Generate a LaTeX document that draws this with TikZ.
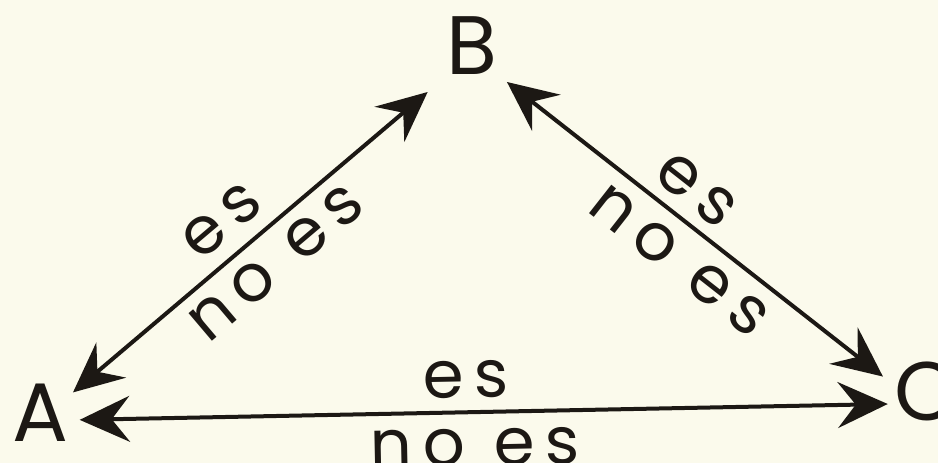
\documentclass[tikz,border=0pt]{standalone}
\usepackage{fontspec}
\setmainfont{Poppins}
\newfontfamily\tagfont[LetterSpace=16]{Poppins}
\usepackage{tikz}
\usetikzlibrary{arrows.meta,positioning}
\definecolor{paper}{RGB}{251,250,236}
\definecolor{ink}{RGB}{28,24,20}

\begin{document}
\begin{tikzpicture}[x=1pt,y=-1pt,
    letter/.style={font=\fontsize{83}{90}\selectfont, text=ink, inner sep=0pt, minimum width=60pt, minimum height=58pt},
    link/.style={draw=ink, line width=4pt, {Stealth[length=50pt,width=46pt,inset=18pt]}-{Stealth[length=50pt,width=46pt,inset=18pt]}},
    tag/.style={font=\tagfont\fontsize{66}{72}\selectfont, text=ink, inner sep=0pt, sloped}]
    % paper
    \fill[paper] (0,0) rectangle (938,463);
    \useasboundingbox (0,0) rectangle (938,463);
    % the three corners
    \node[letter] (A) at (40.5,412.5) {A};
    \node[letter] (B) at (472,46) {B};
    \node[letter] (C) at (927,391.5) {C};
    % relations, both ways
    \draw[link, shorten <=3pt, shorten >=26pt] (A.31) -- (B.-130)
        node[tag, pos=.46, above=14pt] {es}
        node[tag, pos=.49, below=12pt] {no es};
    \draw[link, shorten <=11pt, shorten >=15pt] (B.-48) -- (C.170)
        node[tag, pos=.45, above=11pt] {es}
        node[tag, pos=.51, below=14pt] {no es};
    \draw[link, shorten <=9pt, shorten >=7pt] (A.-14) -- (C.-159)
        node[tag, pos=.48, above=12pt] {es}
        node[tag, pos=.49, below=15pt] {no es};
\end{tikzpicture}
\end{document}
